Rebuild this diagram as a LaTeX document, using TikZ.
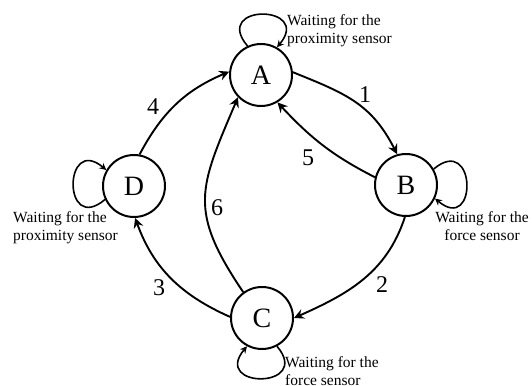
\documentclass[tikz,border=0pt]{standalone}
\usepackage{fontspec}
\setmainfont{Liberation Serif}
\usetikzlibrary{arrows.meta}
\begin{document}
\begin{tikzpicture}[x=1pt,y=1pt,
  state/.style={circle, draw, line width=2pt, minimum size=62pt, inner sep=0pt, font=\fontsize{28}{30}\selectfont},
  arc/.style={line width=1.9pt, -{Stealth[length=10pt,width=10pt,inset=3.5pt]}},
  selfloop/.style={line width=1.6pt, -{Stealth[length=7pt,width=7pt,inset=2.5pt]}},
  num/.style={inner sep=0pt, font=\fontsize{24}{26}\selectfont},
  note/.style={inner sep=0pt, font=\fontsize{15.5}{17.5}\selectfont}]
\useasboundingbox (0,0) rectangle (532,-385);
\node[state] (A) at (261,-75) {A};
\node[state] (B) at (406,-185) {B};
\node[state] (C) at (262,-318) {C};
\node[state] (D) at (134,-186) {D};

% transitions
\draw[arc] (A.5) to[out=-22, in=117, looseness=1.1] (B.106);
\draw[arc] (B.166) to[out=153, in=-47, looseness=1.0] (A.-59);
\draw[arc] (B.-92) to[out=-108, in=24, looseness=1.0] (C.0);
\draw[arc] (C.178) to[out=156, in=-70, looseness=1.0] (D.-88);
\draw[arc] (C.126) to[out=124, in=-113, looseness=1.3] (A.-136);
\draw[arc] (D.80) to[out=62, in=-157, looseness=1.0] (A.174);

% self loops
\draw[selfloop] (A.115) .. controls +(130:56) and +(50:56) .. (A.60);
\draw[selfloop] (D.205) .. controls +(220:56) and +(140:56) .. (D.150);
\draw[selfloop] (B.30) .. controls +(40:56) and +(-40:56) .. (B.-25);
\draw[selfloop] (C.-62) .. controls +(-50:56) and +(-130:56) .. (C.-118);

% numbers
\node[num] (n1) at (365,-95) {1};
\node[num] (n5) at (308,-158) {5};
\node[num] (n2) at (382,-285) {2};
\node[num] (n3) at (159,-288) {3};
\node[num] (n6) at (217,-208) {6};
\node[num] (n4) at (153,-107) {4};

% notes (base anchor = baseline of the last line)
\node[note, align=left, anchor=base west] (tA) at (287,-43.5) {Waiting for the\\proximity sensor};
\node[note, align=left, anchor=base west] (tD) at (13,-240) {Waiting for the\\proximity sensor};
\node[note, align=center, anchor=base] (tB) at (482,-240) {Waiting for the\\force sensor};
\node[note, align=left, anchor=base west] (tC) at (285,-385) {Waiting for the\\force sensor};
\end{tikzpicture}
\end{document}
